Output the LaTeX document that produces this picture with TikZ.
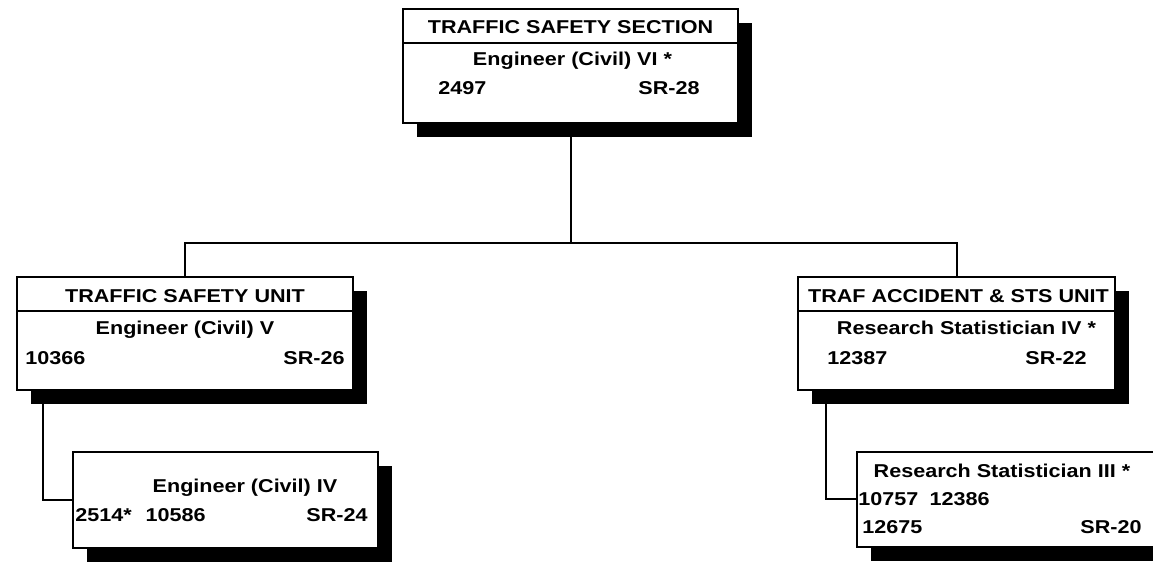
\documentclass[tikz,border=0pt]{standalone}
\usepackage{fontspec}
\setmainfont{Liberation Sans}[FakeStretch=1.16]
\usetikzlibrary{positioning,shadows,backgrounds}

\begin{document}
\begin{tikzpicture}[
  x=0.5pt, y=0.5pt,
  every node/.style={font=\bfseries\fontsize{9.3}{11}\selectfont,inner sep=0pt},
  post/.style={draw,line width=1pt,fill=white,
    drop shadow={shadow xshift=7pt,shadow yshift=-7pt,fill=black,opacity=1}},
  wire/.style={line width=1pt}
]
  \path[use as bounding box,clip] (0,0) rectangle (1153,563);

  \node[post,minimum width=167.5pt,minimum height=57pt] (sect) at (570.5,497) {};
  \node[post,minimum width=168pt,minimum height=56.5pt] (unitL) at (185,229.5) {};
  \node[post,minimum width=158.5pt,minimum height=56.5pt] (unitR) at (956.5,229.5) {};
  \node[post,minimum width=152.5pt,minimum height=48pt] (engIV) at (225.5,63) {};
  \node[post,minimum width=149.5pt,minimum height=47.5pt] (statIII) at (1006.5,63.5) {};

  \foreach \b in {sect,unitL,unitR}
    \draw[line width=1pt] ([yshift=-17.5pt]\b.north west) -- ([yshift=-17.5pt]\b.north east);

  % section
  \node[anchor=base] (sectHead) at (570.5,529) {TRAFFIC SAFETY SECTION};
  \node[anchor=base] (sectTitle) at (572.5,497) {Engineer (Civil) VI *};
  \node[anchor=base west] (sectNo) at (438,468) {2497};
  \node[anchor=base east] (sectSR) at (700,468) {SR-28};

  % units
  \node[anchor=base] (unitLHead) at (185,260) {TRAFFIC SAFETY UNIT};
  \node[anchor=base] (unitLTitle) at (185,228) {Engineer (Civil) V};
  \node[anchor=base west] (unitLNo) at (25,198) {10366};
  \node[anchor=base east] (unitLSR) at (345,198) {SR-26};

  \node[anchor=base] (unitRHead) at (958.5,260) {TRAF ACCIDENT \& STS UNIT};
  \node[anchor=base] (unitRTitle) at (966.5,228) {Research Statistician IV *};
  \node[anchor=base west] (unitRNo) at (827,198) {12387};
  \node[anchor=base east] (unitRSR) at (1087,198) {SR-22};

  % staff
  \node[anchor=base] (engIVTitle) at (245,70) {Engineer (Civil) IV};
  \node[anchor=base west] (engIVNo) at (75,41) {2514*\hspace{0.75em}10586};
  \node[anchor=base east] (engIVSR) at (368,41) {SR-24};

  \node[anchor=base] (statIIITitle) at (1002,85) {Research Statistician III *};
  \node[anchor=base west] (statIIINo) at (858,57) {10757\hspace{0.6em}12386};
  \node[anchor=base west] (statIIINo2) at (862,29) {12675};
  \node[anchor=base east] (statIIISR) at (1142,29) {SR-20};

  \coordinate (bus) at (570.5,320);
  \coordinate (tapL) at (43,229.5);
  \coordinate (tapR) at (826,229.5);

  \begin{scope}[on background layer]
    \draw[wire] (sect) -- (bus);
    \draw[wire] (unitL.north) |- (bus) -| (unitR.north);
    \draw[wire] (engIV.west) -| (tapL);
    \draw[wire] (statIII.west) -| (tapR);
  \end{scope}
\end{tikzpicture}
\end{document}
